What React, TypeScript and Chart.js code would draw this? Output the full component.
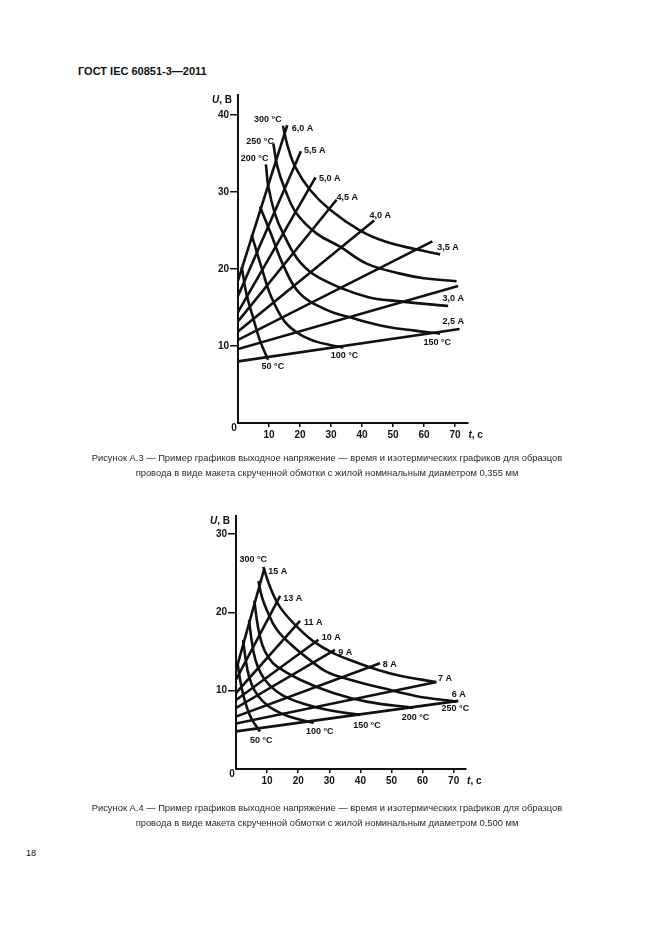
import React, { useEffect, useRef } from "react";
import { Chart, registerables } from "chart.js";

Chart.register(...registerables);

// ---------------- Figure A.3 data (t, s ; U, V) ----------------
const fig3TimeTicks = [10, 20, 30, 40, 50, 60, 70];
const fig3VoltTicks = [10, 20, 30, 40];
const fig3TimeMax = 74;
const fig3VoltMax = 42.6;

const fig3Cur60 = [[0, 18.5], [15.9, 38.7]];
const fig3Cur55 = [[0, 16.5], [20.3, 35.3]];
const fig3Cur50 = [[0, 14.4], [25.0, 31.9]];
const fig3Cur45 = [[0, 13.2], [31.8, 29.0]];
const fig3Cur40 = [[0, 11.9], [43.9, 26.3]];
const fig3Cur35 = [[0, 10.8], [62.7, 23.6]];
const fig3Cur30 = [[0, 9.6], [71.0, 17.8]];
const fig3Cur25 = [[0, 8.0], [71.5, 12.2]];

const fig3Iso300 = [[14.5, 38.6], [16, 36], [18.4, 33.3], [23.2, 30.3], [29.7, 27.7], [39.4, 25], [48, 23.5], [57, 22.6], [65.2, 21.9]];
const fig3Iso250 = [[11.4, 36.3], [12.7, 33.3], [15.2, 30.3], [18.9, 27.2], [25.4, 24.6], [32.9, 22.9], [41.5, 20.7], [52.3, 19.4], [60, 18.8], [70.5, 18.4]];
const fig3Iso200 = [[9, 33.6], [9.8, 30.7], [11.9, 27.2], [14.6, 24.6], [20, 20.9], [27.5, 18.6], [41.5, 16.4], [52.3, 15.8], [67.8, 15.2]];
const fig3Iso150 = [[7.1, 28.1], [9, 26.2], [10.6, 24.6], [14.6, 20.5], [20, 16.8], [28.6, 14.7], [37.2, 13.6], [48, 12.5], [57, 12], [65.2, 11.6]];
const fig3Iso100 = [[4.4, 24.4], [6, 22.3], [7.5, 20.3], [10.7, 16.4], [15, 13.2], [20, 11.5], [25, 10.6], [30, 10.1], [34, 9.8]];
const fig3Iso50 = [[1.2, 20.3], [2.7, 16.8], [4.8, 13.8], [7, 10.8], [9.7, 8.2]];

const fig3LabelTexts = ["300 °C", "250 °C", "200 °C", "6,0 A", "5,5 A", "5,0 A", "4,5 A", "4,0 A", "3,5 A", "3,0 A", "2,5 A", "150 °C", "100 °C", "50 °C"];
const fig3LabelAt = [[14.1, 39.4], [11.6, 36.6], [9.8, 34.4], [17.3, 38.2], [21.3, 35.4], [26.1, 31.8], [31.8, 29.3], [42.4, 27.0], [64.3, 22.8], [66, 16.2], [66, 13.2], [59.8, 10.5], [29.9, 8.8], [7.6, 7.3]];
const fig3LabelAlign = ["right", "right", "right", "left", "left", "left", "left", "left", "left", "left", "left", "left", "left", "left"];

// ---------------- Figure A.4 data ----------------
const fig4TimeTicks = [10, 20, 30, 40, 50, 60, 70];
const fig4VoltTicks = [10, 20, 30];
const fig4TimeMax = 74;
const fig4VoltMax = 32.3;

const fig4Cur15 = [[0, 12.6], [9.1, 25.6]];
const fig4Cur13 = [[0, 11.4], [14.2, 22.1]];
const fig4Cur11 = [[0, 9.7], [20.6, 18.9]];
const fig4Cur10 = [[0, 8.8], [26.5, 16.5]];
const fig4Cur9 = [[0, 7.8], [31.8, 15.2]];
const fig4Cur8 = [[0, 6.7], [46.3, 13.5]];
const fig4Cur7 = [[0, 5.8], [64.5, 11.1]];
const fig4Cur6 = [[0, 4.8], [71.5, 8.7]];

const fig4Iso300 = [[8.8, 25.8], [10.9, 23.3], [14.1, 20.7], [19.5, 18.2], [24.9, 16.3], [31.3, 14.8], [38.8, 13.6], [46, 12.6], [52.7, 11.9], [64.3, 11.1]];
const fig4Iso250 = [[7.2, 24], [8.3, 22], [9.9, 20.3], [13.1, 17.8], [18.5, 15.6], [23.8, 13.9], [29.2, 12.4], [36.7, 11.4], [47.4, 10.3], [58.1, 9.3], [71, 8.6]];
const fig4Iso200 = [[5.9, 21.5], [7, 18.3], [8.5, 15.8], [10.5, 14.2], [13.1, 13.1], [20.6, 11.4], [31.3, 9.7], [42, 8.6], [57, 7.8]];
const fig4Iso150 = [[4.2, 19], [5, 16.5], [6.2, 14], [8, 12.2], [10.5, 10.8], [15, 9.4], [22, 8.3], [30, 7.5], [39.9, 6.9]];
const fig4Iso100 = [[2.3, 16.5], [3.1, 14], [4.2, 11.8], [6, 10], [8.5, 8.7], [12, 7.6], [17, 6.7], [25, 5.9]];
const fig4Iso50 = [[0.5, 13.5], [1.5, 11], [3, 8.5], [5, 6.4], [7.7, 4.8]];

const fig4LabelTexts = ["300 °C", "15 A", "13 A", "11 A", "10 A", "9 A", "8 A", "7 A", "6 A", "250 °C", "200 °C", "150 °C", "100 °C", "50 °C"];
const fig4LabelAt = [[10.0, 26.7], [10.4, 25.2], [15.2, 21.8], [21.9, 18.7], [27.6, 16.8], [32.9, 14.9], [47.2, 13.4], [65.0, 11.5], [69.4, 9.5], [66.1, 7.7], [53.3, 6.6], [37.7, 5.6], [22.5, 4.8], [4.5, 3.7]];
const fig4LabelAlign = ["right", "left", "left", "left", "left", "left", "left", "left", "left", "left", "left", "left", "left", "left"];

const INK = "#111";
const FONT = '"Liberation Sans", Arial, sans-serif';

type Pt = number[];

function makeConfig(opts: {
  curves: Pt[][];
  xMax: number;
  yMax: number;
  xTicks: number[];
  yTicks: number[];
  labelTexts: string[];
  labelAt: Pt[];
  labelAlign: string[];
  yAxisWidth: number;
  xAxisHeight: number;
  padTop: number;
  padRight: number;
}) {
  const datasets = opts.curves.map((c) => ({
    data: c.map(([x, y]) => ({ x, y })),
    showLine: true,
    borderColor: INK,
    borderWidth: 2.6,
    pointRadius: 0,
    tension: c.length > 2 ? 0.4 : 0,
    fill: false,
    borderCapStyle: "butt",
  }));
  const annot = {
    id: "annot",
    afterDraw(chart: any) {
      const { ctx, chartArea } = chart;
      const xs = chart.scales.x;
      const ys = chart.scales.y;
      ctx.save();
      ctx.fillStyle = INK;
      ctx.textBaseline = "middle";
      ctx.font = `bold 9px ${FONT}`;
      opts.labelTexts.forEach((txt, i) => {
        ctx.textAlign = opts.labelAlign[i] as CanvasTextAlign;
        ctx.fillText(txt, xs.getPixelForValue(opts.labelAt[i][0]), ys.getPixelForValue(opts.labelAt[i][1]));
      });
      // origin
      ctx.font = `bold 10px ${FONT}`;
      ctx.textAlign = "center";
      ctx.fillText("0", chartArea.left - 4, chartArea.bottom + 5);
      // U, В
      ctx.textAlign = "left";
      ctx.font = `italic bold 10px ${FONT}`;
      const wU = ctx.measureText("U").width;
      ctx.font = `bold 10px ${FONT}`;
      const wRest = ctx.measureText(", В").width;
      const sx = chartArea.left - 6 - wU - wRest;
      const sy = chartArea.top + 5;
      ctx.font = `italic bold 10px ${FONT}`;
      ctx.fillText("U", sx, sy);
      ctx.font = `bold 10px ${FONT}`;
      ctx.fillText(", В", sx + wU, sy);
      // t, с
      const tx = chartArea.right + 1;
      const ty = chartArea.bottom + 12;
      ctx.font = `italic bold 10px ${FONT}`;
      ctx.fillText("t", tx, ty);
      const wt = ctx.measureText("t").width;
      ctx.font = `bold 10px ${FONT}`;
      ctx.fillText(", с", tx + wt, ty);
      ctx.restore();
    },
  };
  return {
    type: "scatter",
    data: { datasets },
    options: {
      animation: false,
      responsive: false,
      devicePixelRatio: 1,
      events: [],
      layout: { padding: { top: opts.padTop, right: opts.padRight, left: 0, bottom: 0 } },
      plugins: { legend: { display: false }, tooltip: { enabled: false } },
      scales: {
        x: {
          type: "linear",
          min: 0,
          max: opts.xMax,
          afterBuildTicks: (s: any) => {
            s.ticks = opts.xTicks.map((v) => ({ value: v }));
          },
          afterFit: (s: any) => {
            s.height = opts.xAxisHeight;
          },
          border: { display: true, color: INK, width: 2 },
          grid: { display: true, drawOnChartArea: false, drawTicks: true, tickLength: 4, color: INK, lineWidth: 1.5 },
          ticks: { color: INK, font: { family: FONT, size: 10, weight: "bold" }, padding: 2, maxRotation: 0, autoSkip: false },
        },
        y: {
          type: "linear",
          min: 0,
          max: opts.yMax,
          afterBuildTicks: (s: any) => {
            s.ticks = opts.yTicks.map((v) => ({ value: v }));
          },
          afterFit: (s: any) => {
            s.width = opts.yAxisWidth;
          },
          border: { display: true, color: INK, width: 2 },
          grid: { display: true, drawOnChartArea: false, drawTicks: true, tickLength: 8, color: INK, lineWidth: 1.5 },
          ticks: { color: INK, font: { family: FONT, size: 10, weight: "bold" }, padding: 1, autoSkip: false },
        },
      },
    },
    plugins: [annot],
  };
}

function ChartBox(props: { config: any; left: number; top: number; width: number; height: number }) {
  const ref = useRef<HTMLCanvasElement | null>(null);
  useEffect(() => {
    if (!ref.current) return;
    const chart = new Chart(ref.current, props.config);
    return () => chart.destroy();
  }, []);
  return (
    <canvas
      ref={ref}
      width={props.width}
      height={props.height}
      style={{ position: "absolute", left: props.left, top: props.top, width: props.width, height: props.height }}
    />
  );
}

const fig3Config = makeConfig({
  curves: [fig3Cur60, fig3Cur55, fig3Cur50, fig3Cur45, fig3Cur40, fig3Cur35, fig3Cur30, fig3Cur25, fig3Iso300, fig3Iso250, fig3Iso200, fig3Iso150, fig3Iso100, fig3Iso50],
  xMax: fig3TimeMax,
  yMax: fig3VoltMax,
  xTicks: fig3TimeTicks,
  yTicks: fig3VoltTicks,
  labelTexts: fig3LabelTexts,
  labelAt: fig3LabelAt,
  labelAlign: fig3LabelAlign,
  yAxisWidth: 68,
  xAxisHeight: 32,
  padTop: 10,
  padRight: 22.6,
});

const fig4Config = makeConfig({
  curves: [fig4Cur15, fig4Cur13, fig4Cur11, fig4Cur10, fig4Cur9, fig4Cur8, fig4Cur7, fig4Cur6, fig4Iso300, fig4Iso250, fig4Iso200, fig4Iso150, fig4Iso100, fig4Iso50],
  xMax: fig4TimeMax,
  yMax: fig4VoltMax,
  xTicks: fig4TimeTicks,
  yTicks: fig4VoltTicks,
  labelTexts: fig4LabelTexts,
  labelAt: fig4LabelAt,
  labelAlign: fig4LabelAlign,
  yAxisWidth: 66,
  xAxisHeight: 37,
  padTop: 10,
  padRight: 23.9,
});

const captionStyle: React.CSSProperties = {
  position: "absolute",
  left: 0,
  width: 654,
  textAlign: "center",
  fontFamily: FONT,
  fontSize: 9.35,
  lineHeight: "15px",
  color: "#2a2a2a",
  whiteSpace: "nowrap",
};

export default function App() {
  return (
    <div style={{ position: "absolute", left: 0, top: 0, width: 661, height: 936, background: "#fff", overflow: "hidden" }}>
      <div style={{ position: "absolute", left: 78, top: 63, fontFamily: FONT, fontWeight: "bold", fontSize: 11, lineHeight: "16px", color: INK, whiteSpace: "nowrap" }}>
        ГОСТ IEC 60851-3—2011
      </div>
      <ChartBox config={fig3Config} left={170} top={85} width={320} height={370} />
      <div style={{ ...captionStyle, top: 451 }}>
        Рисунок  А.3 — Пример графиков выходное напряжение — время и изотермических графиков для образцов
        <br />
        провода в виде макета скрученной обмотки с жилой номинальным диаметром 0,355 мм
      </div>
      <ChartBox config={fig4Config} left={170} top={506} width={320} height={300} />
      <div style={{ ...captionStyle, top: 801 }}>
        Рисунок  А.4 — Пример графиков выходное напряжение — время и изотермических графиков для образцов
        <br />
        провода в виде макета скрученной обмотки с жилой номинальным диаметром 0,500 мм
      </div>
      <div style={{ position: "absolute", left: 26, top: 846, fontFamily: FONT, fontSize: 9, lineHeight: "14px", color: INK }}>18</div>
    </div>
  );
}
